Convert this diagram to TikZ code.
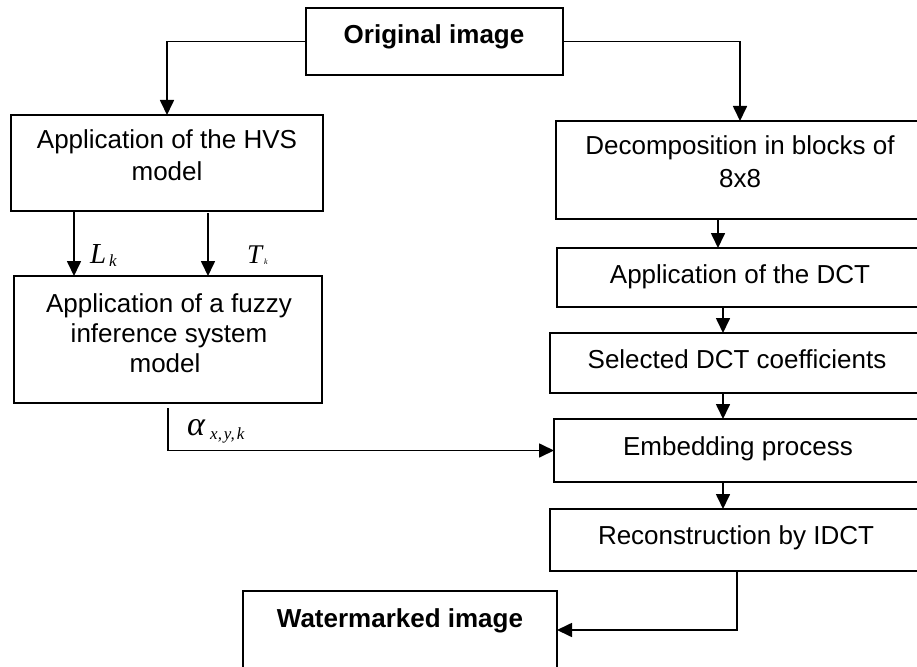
\documentclass[tikz,border=0pt]{standalone}
\usepackage{fontspec}
\setmainfont{Liberation Sans}
\newfontfamily\varfont{Liberation Serif}
\usetikzlibrary{arrows.meta}
\begin{document}
\begin{tikzpicture}[x=1bp,y=-1bp,
  box/.style={draw, line width=1.7bp, inner sep=0pt, outer sep=0pt},
  txt/.style={anchor=base, inner sep=0pt, font=\fontsize{26bp}{30bp}\selectfont},
  btxt/.style={anchor=base, inner sep=0pt, font=\fontsize{26bp}{30bp}\selectfont\bfseries},
  conn/.style={line width=1.7bp, -{Triangle[length=15bp,width=14bp]}},
  var/.style={anchor=base west, inner sep=0pt, font=\varfont\itshape\fontsize{29bp}{30bp}\selectfont},
  varsub/.style={anchor=base west, inner sep=0pt, font=\varfont\itshape\fontsize{17bp}{18bp}\selectfont},
]
\path[use as bounding box] (0,0) rectangle (917,667);
\fill[white] (0,0) rectangle (917,667);
\clip (0,0) rectangle (917,667);

% process boxes
\node[box, minimum width=257bp, minimum height=67bp] (orig) at (434.5,41.5) {};
\node[box, minimum width=312bp, minimum height=96bp] (hvs) at (167,163) {};
\node[box, minimum width=308bp, minimum height=127bp] (fuzzy) at (168,339.5) {};
\node[box, minimum width=368bp, minimum height=98bp] (decomp) at (740,170) {};
\node[box, minimum width=367bp, minimum height=59bp] (dct) at (740.5,277.5) {};
\node[box, minimum width=374bp, minimum height=60bp] (sel) at (737,363) {};
\node[box, minimum width=370bp, minimum height=63bp] (emb) at (739,450.5) {};
\node[box, minimum width=374bp, minimum height=62bp] (rec) at (737,540) {};
\node[box, minimum width=314bp, minimum height=78bp] (wm) at (400,630) {};

% box texts
\node[btxt] (origtxt) at (434,44) {Original image};
\node[txt] (hvstxta) at (167,149) {Application of the HVS};
\node[txt] (hvstxtb) at (167,181) {model};
\node[txt] (fuzzytxta) at (169,312) {Application of a fuzzy};
\node[txt] (fuzzytxtb) at (169,342) {inference system};
\node[txt] (fuzzytxtc) at (165,372) {model};
\node[txt] (decomptxta) at (740,155) {Decomposition in blocks of};
\node[txt] (decomptxtb) at (740,187) {8x8};
\node[txt] (dcttxt) at (740,283) {Application of the DCT};
\node[txt] (seltxt) at (737,368) {Selected DCT coefficients};
\node[txt] (embtxt) at (738,455) {Embedding process};
\node[txt] (rectxt) at (736,544) {Reconstruction by IDCT};
\node[btxt] (wmtxt) at (400,627) {Watermarked image};

% connector columns
\coordinate (lk) at (74,0);
\coordinate (tk) at (208,0);
\coordinate (ca) at (718,0);
\coordinate (cb) at (723,0);

% connectors
\draw[conn] (orig.west) -| (hvs.north);
\draw[conn] (orig.east) -| (decomp.north);
\draw[conn] (hvs.south -| lk) -- (fuzzy.north -| lk);
\draw[conn] ([yshift=-2bp]hvs.south -| tk) -- (fuzzy.north -| tk);
\draw[conn] (decomp.south -| ca) -- (dct.north -| ca);
\draw[conn] (dct.south -| cb) -- (sel.north -| cb);
\draw[conn] (sel.south -| cb) -- (emb.north -| cb);
\draw[conn] (emb.south -| cb) -- (rec.north -| cb);
\draw[conn] ([yshift=-5bp]fuzzy.south) |- (emb.west);
\draw[conn] (rec.south) |- (wm.east);

% signal labels
\node[var] (lsym) at (90,263) {L};
\node[varsub] (lsub) at (109,266) {k};
\node[var, font=\varfont\itshape\fontsize{27bp}{28bp}\selectfont] (tsym) at (247,263) {T};
\node[varsub, font=\varfont\itshape\fontsize{8bp}{9bp}\selectfont] (tsub) at (264,264) {k};
\node[var, font=\varfont\itshape\fontsize{34bp}{36bp}\selectfont] (asym) at (187,435) {α};
\node[varsub] (asub) at (210,439) {x,\kern2bp y,\kern2bp k};
\end{tikzpicture}
\end{document}
